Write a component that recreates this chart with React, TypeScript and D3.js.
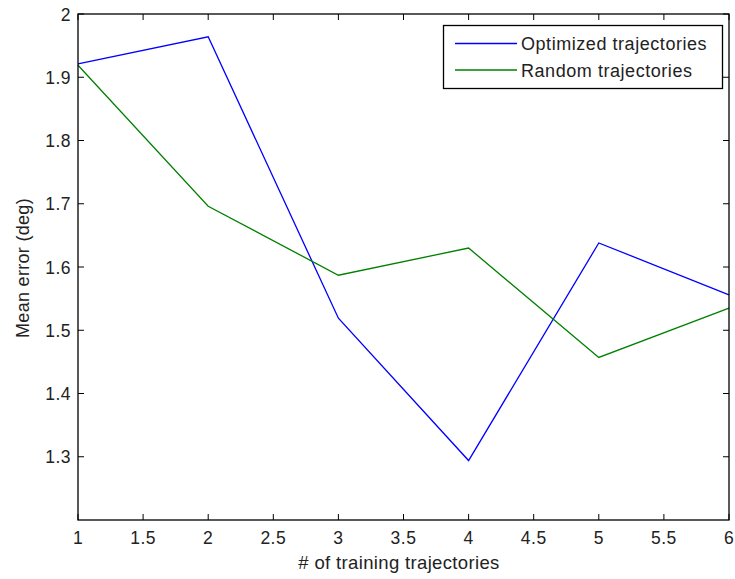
import React from "react";
import * as d3 from "d3";

const xValues = [1, 2, 3, 4, 5, 6];
const optimized = [1.921, 1.964, 1.519, 1.294, 1.638, 1.556];
const random = [1.919, 1.696, 1.587, 1.630, 1.457, 1.535];
const xTicks = [1, 1.5, 2, 2.5, 3, 3.5, 4, 4.5, 5, 5.5, 6];
const yTicks = [1.3, 1.4, 1.5, 1.6, 1.7, 1.8, 1.9, 2];
const seriesNames = ["Optimized trajectories", "Random trajectories"];
const seriesColors = ["#0000ff", "#008000"];

export default function App() {
  const W = 735, H = 579;
  const L = 78, R = 729, T = 14, B = 520;
  const x = d3.scaleLinear().domain([1, 6]).range([L, R]);
  const y = d3.scaleLinear().domain([1.2, 2]).range([B, T]);
  const line = d3.line<number>().x((_, i) => x(xValues[i])).y((d) => y(d));
  const series = [optimized, random];
  const font = "Arial, 'Liberation Sans', sans-serif";
  const tl = 6;
  return (
    <svg width={W} height={H} style={{ position: "absolute", left: 0, top: 0, background: "#fff" }} fontFamily={font}>
      <rect x={0} y={0} width={W} height={H} fill="#fff" />
      {series.map((s, i) => (
        <path key={i} d={line(s) || ""} fill="none" stroke={seriesColors[i]} strokeWidth={1.3} />
      ))}
      <rect x={L} y={T} width={R - L} height={B - T} fill="none" stroke="#000" strokeWidth={1.3} />
      {xTicks.map((t) => (
        <g key={"x" + t}>
          <line x1={x(t)} x2={x(t)} y1={B} y2={B - tl} stroke="#000" />
          <line x1={x(t)} x2={x(t)} y1={T} y2={T + tl} stroke="#000" />
          <text x={x(t)} y={544} textAnchor="middle" fontSize={17.5} letterSpacing={0.5} fill="#222">{String(t)}</text>
        </g>
      ))}
      {yTicks.map((t) => (
        <g key={"y" + t}>
          <line x1={L} x2={L + tl} y1={y(t)} y2={y(t)} stroke="#000" />
          <line x1={R} x2={R - tl} y1={y(t)} y2={y(t)} stroke="#000" />
          <text x={71} y={y(t) + 6.5} textAnchor="end" fontSize={17.5} letterSpacing={0.5} fill="#222">{String(t)}</text>
        </g>
      ))}
      <text x={399} y={569} textAnchor="middle" fontSize={18.5} letterSpacing={0.35} fill="#222">{"# of training trajectories"}</text>
      <text transform={`translate(29,268) rotate(-90)`} textAnchor="middle" fontSize={18} letterSpacing={0.3} fill="#222">{"Mean error (deg)"}</text>
      <rect x={443.5} y={25.5} width={279} height={63} fill="#fff" stroke="#000" strokeWidth={1.3} />
      {seriesNames.map((n, i) => (
        <g key={n}>
          <line x1={455} x2={517} y1={43.5 + i * 26.5} y2={43.5 + i * 26.5} stroke={seriesColors[i]} strokeWidth={1.5} />
          <text x={521} y={50 + i * 26.5} fontSize={18} letterSpacing={0.55} fill="#222">{n}</text>
        </g>
      ))}
    </svg>
  );
}
